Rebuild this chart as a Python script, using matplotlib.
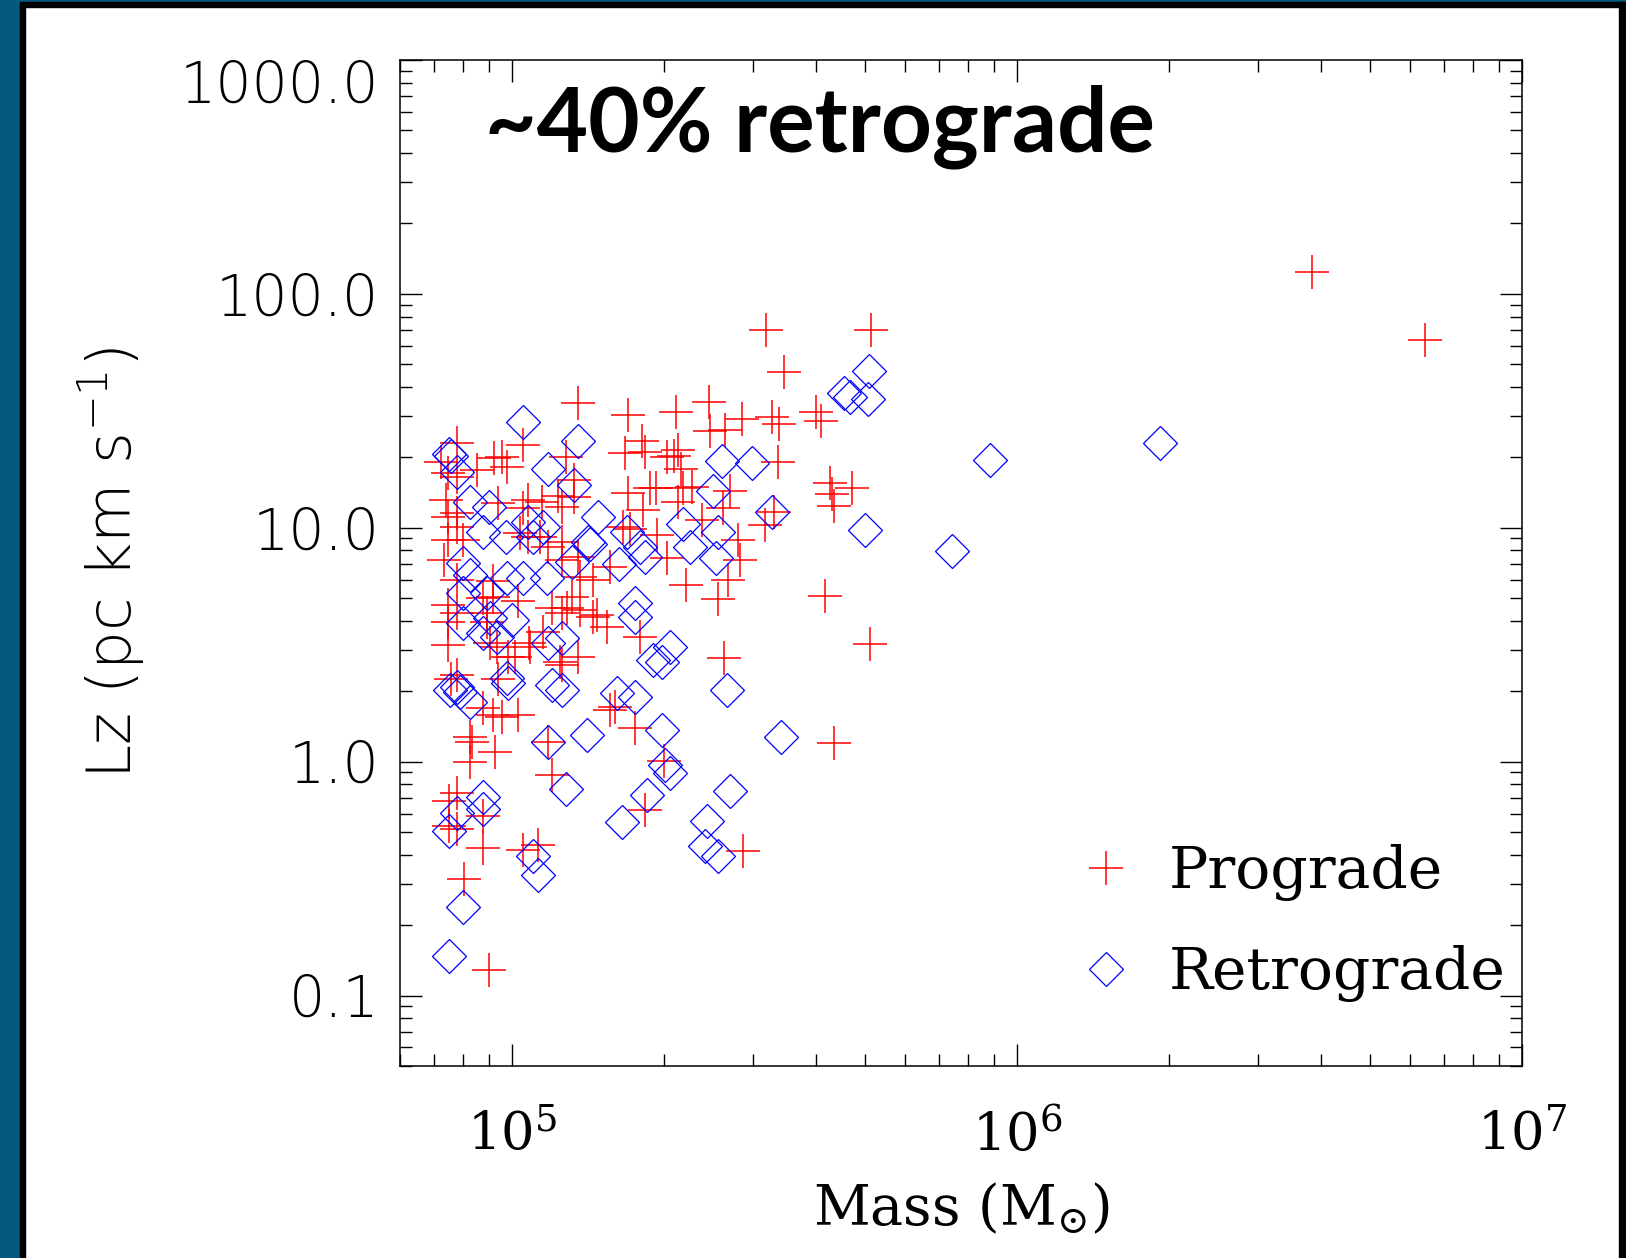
import matplotlib.pyplot as plt
from matplotlib.patches import Rectangle
from matplotlib.ticker import FixedLocator, FixedFormatter, NullFormatter, LogLocator

plt.rcParams['mathtext.fontset'] = 'dejavuserif'
plt.rcParams['mathtext.default'] = 'regular'

# clump masses in units of 1e5 Msun, angular momentum Lz in pc km/s
pro_mass = [3.185, 5.139, 3.456, 38.4, 64.2, 4.342, 5.116, 4.168, 2.869, 1.834,
            1.999, 2.630, 2.558, 2.678, 2.211, 2.83, 2.803, 3.170, 3.303, 2.378,
            2.618, 2.70, 2.273, 2.181, 2.132, 2.161, 2.027, 2.132, 1.929, 2.027,
            1.938, 4.26, 4.302, 4.713, 4.342, 3.363, 2.113, 2.455, 2.855, 2.642,
            2.467, 3.273, 3.379, 4.000, 4.092, 1.697, 1.351, 1.809, 1.834, 1.674,
            1.697, 1.877, 1.818, 1.659, 0.778, 1.051, 0.955, 0.921, 0.977, 0.852,
            0.747, 0.778, 1.279, 1.327, 1.327, 0.778, 0.747, 0.778, 0.747, 0.800,
            1.051, 1.147, 0.938, 1.076, 1.256, 1.076, 1.037, 1.136, 1.178, 1.256,
            1.351, 1.256, 1.564, 1.364, 1.447, 1.474, 1.542, 1.793, 0.917, 0.778,
            0.778, 0.892, 0.876, 0.905, 0.934, 0.982, 1.014, 1.085, 1.152, 1.256,
            1.200, 1.285, 1.315, 1.364, 1.245, 1.351, 1.256, 0.778, 0.876, 0.917,
            0.955, 1.028, 0.826, 0.833, 0.826, 0.925, 1.178, 1.200, 1.564, 1.600,
            1.752, 0.778, 0.750, 0.876, 0.778, 0.750, 0.876, 1.051, 1.126, 0.804,
            0.901, 0.747, 0.747, 0.757, 0.733, 0.747, 0.917, 1.028, 0.892, 1.081,
            0.938, 1.233, 1.447, 1.713, 2.094, 0.723, 0.740]
pro_lz = [70.1, 70.1, 46.4, 124.0, 63.5, 1.20, 3.18, 5.11, 0.415, 0.621,
          1.01, 2.78, 4.96, 5.98, 5.69, 7.28, 8.87, 10.3, 11.7, 10.8,
          12.2, 14.4, 14.9, 14.8, 12.9, 17.8, 20.1, 21.5, 14.8, 7.43,
          9.32, 15.5, 13.9, 14.8, 12.4, 19.1, 31.3, 34.5, 29.2, 26.2,
          25.9, 29.8, 27.8, 31.3, 28.6, 30.4, 34.2, 23.5, 21.1, 20.9,
          14.1, 14.8, 11.9, 10.1, 23.0, 22.6, 20.1, 19.9, 18.2, 17.7,
          17.2, 16.5, 20.1, 16.0, 13.5, 11.6, 11.1, 10.1, 8.87, 8.87,
          12.2, 12.9, 12.8, 13.2, 12.3, 9.14, 9.50, 9.14, 8.28, 8.70,
          7.50, 7.28, 6.80, 6.16, 5.98, 4.24, 3.77, 3.41, 5.06, 5.98,
          4.32, 4.32, 5.01, 3.22, 3.09, 2.80, 2.80, 3.09, 3.59, 4.32,
          4.54, 4.54, 5.06, 4.45, 2.67, 2.80, 2.59, 2.35, 1.70, 1.58,
          1.55, 1.58, 1.28, 1.21, 1.00, 1.10, 1.21, 0.877, 1.66, 1.71,
          1.39, 0.735, 0.679, 0.586, 0.516, 0.531, 0.428, 0.419, 0.440, 0.315,
          0.129, 4.68, 3.96, 2.26, 7.28, 3.16, 5.92, 4.86, 3.96, 3.22,
          2.26, 13.7, 4.16, 9.88, 20.3, 19.1, 13.2]

retro_mass = [1.051, 1.351, 0.750, 0.757, 0.778, 1.178, 1.327, 2.606, 2.987, 2.500,
              3.273, 5.000, 5.093, 4.544, 4.67, 5.070, 0.826, 0.901, 0.876, 1.076,
              1.152, 0.973, 1.100, 1.480, 1.414, 1.427, 1.689, 1.793, 1.834, 1.629,
              2.181, 2.558, 2.252, 2.535, 1.315, 0.800, 0.826, 0.977, 1.051, 1.173,
              0.800, 0.892, 1.752, 1.752, 0.800, 0.905, 1.000, 0.876, 0.934, 1.178,
              1.256, 1.903, 1.982, 2.056, 0.977, 0.982, 0.778, 0.754, 0.789, 0.826,
              1.200, 1.256, 1.614, 1.752, 2.666, 1.178, 1.408, 1.982, 3.409, 2.009,
              2.056, 1.279, 1.851, 2.70, 0.876, 0.778, 0.876, 0.750, 1.100, 1.126,
              1.652, 2.433, 2.411, 2.558, 0.800, 0.750, 8.844, 19.2, 7.434]
retro_lz = [28.3, 23.5, 20.7, 20.3, 17.3, 17.8, 15.2, 19.3, 18.9, 14.4,
            11.7, 9.78, 46.8, 37.7, 36.2, 35.5, 12.9, 12.3, 9.60, 10.6,
            10.1, 9.14, 9.14, 11.1, 8.70, 8.52, 9.60, 8.28, 7.50, 7.00,
            10.4, 9.60, 8.28, 7.43, 7.14, 7.07, 6.28, 6.10, 6.10, 6.10,
            5.26, 5.26, 4.77, 4.16, 3.92, 4.12, 4.04, 3.55, 3.41, 3.22,
            3.38, 2.72, 2.67, 3.09, 2.28, 2.17, 2.09, 2.03, 1.99, 1.80,
            2.13, 2.03, 1.97, 1.89, 2.03, 1.21, 1.30, 1.37, 1.28, 0.968,
            0.895, 0.764, 0.720, 0.749, 0.706, 0.604, 0.628, 0.506, 0.395, 0.328,
            0.552, 0.558, 0.436, 0.395, 0.239, 0.148, 19.5, 23.0, 7.96]

xtick_vals = [1e5, 1e6, 1e7]
xtick_text = [r'$10^{5}$', r'$10^{6}$', r'$10^{7}$']
ytick_vals = [0.1, 1.0, 10.0, 100.0, 1000.0]
ytick_text = ['0.1', '1.0', '10.0', '100.0', '1000.0']

W, H = 1626, 1258
fig = plt.figure(figsize=(W / 100, H / 100), dpi=100)
fig.patch.set_facecolor('white')

# slide frame: blue band + black rule on the left, black rule on top and right
slide_blue = '#03597f'
fig.patches.append(Rectangle((0, 0), 20 / W, 1, transform=fig.transFigure, color=slide_blue, zorder=0))
fig.patches.append(Rectangle((20 / W, 0), 5 / W, 1, transform=fig.transFigure, color='black', zorder=0))
fig.patches.append(Rectangle((0, 1 - 2 / H), 1, 2 / H, transform=fig.transFigure, color=slide_blue, zorder=0))
fig.patches.append(Rectangle((20 / W, 1 - 7 / H), 1, 5 / H, transform=fig.transFigure, color='black', zorder=0))
fig.patches.append(Rectangle((1 - 7 / W, 0), 7 / W, 1 - 2 / H, transform=fig.transFigure, color='black', zorder=0))

ax = fig.add_axes([400 / W, 192 / H, 1122 / W, 1006 / H])

mass_scale = 1e5
ax.plot([m * mass_scale for m in pro_mass], pro_lz, ls='none', marker='+',
        ms=24.5, mew=1.1, color='red', label='Prograde')
ax.plot([m * mass_scale for m in retro_mass], retro_lz, ls='none', marker='D',
        ms=17.6, mew=0.9, mfc='none', mec='blue', label='Retrograde')

ax.set_xscale('log')
ax.set_yscale('log')
ax.set_xlim(6e4, 1e7)
ax.set_ylim(0.05, 1000)

for s in ax.spines.values():
    s.set_linewidth(1.1)

ax.xaxis.set_major_locator(FixedLocator(xtick_vals))
ax.xaxis.set_major_formatter(FixedFormatter(xtick_text))
ax.xaxis.set_minor_locator(LogLocator(base=10, subs=range(2, 10)))
ax.xaxis.set_minor_formatter(NullFormatter())
ax.yaxis.set_major_locator(FixedLocator(ytick_vals))
ax.yaxis.set_major_formatter(FixedFormatter(ytick_text))
ax.yaxis.set_minor_locator(LogLocator(base=10, subs=range(2, 10)))
ax.yaxis.set_minor_formatter(NullFormatter())

ax.tick_params(which='both', direction='in', top=True, right=True, width=1.0, color='black')
ax.tick_params(which='major', length=16)
ax.tick_params(which='minor', length=8.3)
ax.tick_params(axis='x', which='major', pad=32)
ax.tick_params(axis='y', which='major', pad=15)

for lab in ax.get_xticklabels():
    lab.set_fontfamily('DejaVu Serif')
    lab.set_fontsize(38)
for lab in ax.get_yticklabels():
    lab.set_fontfamily('DejaVu Sans')
    lab.set_fontweight(200)
    lab.set_fontsize(41)

# IDL pushes the top label below the axis edge
for tick in ax.yaxis.get_major_ticks():
    if tick.get_loc() == 1000.0:
        tick.label1.set_verticalalignment('top')

ax.set_xlabel(r'Mass (M$_{\odot}$)', family='DejaVu Serif', fontsize=40)
ax.xaxis.set_label_coords(0.5, -0.143)
ax.xaxis.label.set_verticalalignment('center')

ax.set_ylabel(r'Lz (pc km s$^{-1}$)', family='DejaVu Sans', fontweight=200, fontsize=44)
ax.yaxis.set_label_coords(-0.257, 0.5)
ax.yaxis.label.set_verticalalignment('center')

leg = ax.legend(loc='center left', bbox_to_anchor=(0.577, 0.142), frameon=False,
                prop={'family': 'DejaVu Serif', 'size': 42}, borderpad=0,
                handlelength=1.0, handletextpad=0.58, labelspacing=0.76,
                numpoints=1)

fig.text(485 / W, 1 - 151 / H, '~40% retrograde', family='Lato', fontweight='bold',
         fontsize=64, ha='left', va='baseline')

fig.savefig('out.png', dpi=100, facecolor=fig.get_facecolor())
